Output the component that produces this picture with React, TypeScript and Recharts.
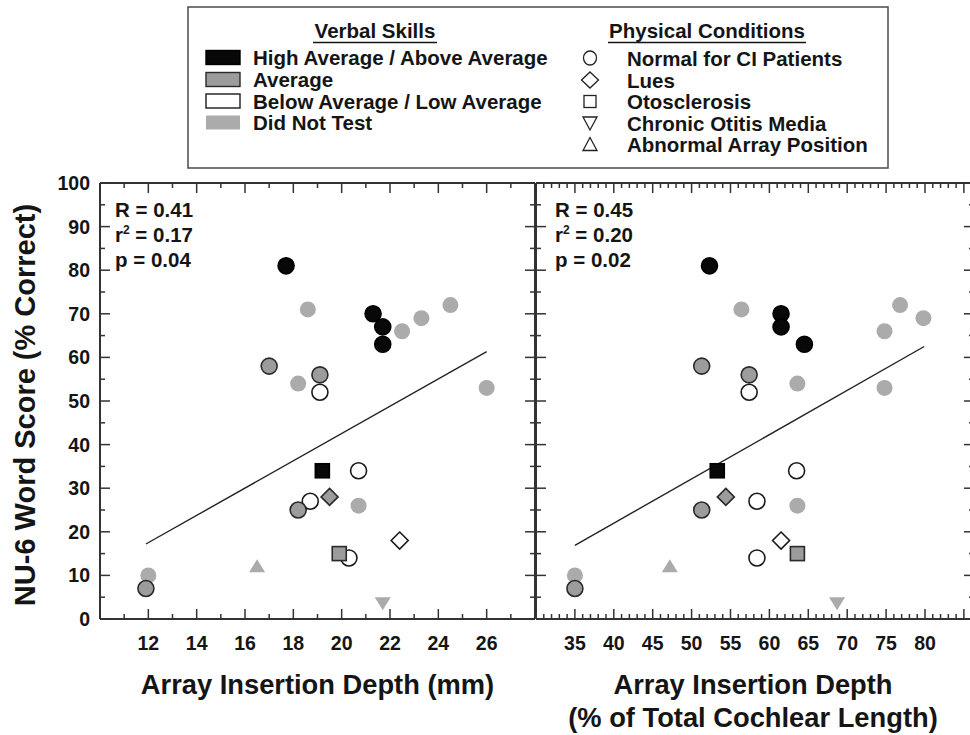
import { ComposedChart, Scatter, XAxis, YAxis } from 'recharts';

const FONT = '"Liberation Sans", Arial, Helvetica, sans-serif';
const INK = '#151515';
const FRAME = '#333';

// one entry per patient, in drawing order (did-not-test first, high average last)
const verbalSkill = [
  'dnt', 'dnt', 'dnt', 'dnt', 'dnt', 'dnt', 'dnt', 'dnt', 'dnt', 'dnt',
  'below', 'below', 'below', 'below', 'below',
  'avg', 'avg', 'avg', 'avg', 'avg', 'avg',
  'high', 'high', 'high', 'high', 'high',
];
const condition = [
  'normal', 'normal', 'normal', 'normal', 'normal', 'normal', 'normal', 'normal', 'abnormal', 'com',
  'normal', 'normal', 'normal', 'normal', 'lues',
  'normal', 'normal', 'normal', 'normal', 'lues', 'oto',
  'normal', 'normal', 'normal', 'normal', 'oto',
];
const wordScore = [71, 66, 69, 72, 53, 54, 26, 10, 12, 3.7, 52, 34, 27, 14, 18, 58, 56, 25, 7, 28, 15, 81, 70, 67, 63, 34];
const depthMm = [
  18.6, 22.5, 23.3, 24.5, 26.0, 18.2, 20.7, 12.0, 16.5, 21.7,
  19.1, 20.7, 18.7, 20.3, 22.4,
  17.0, 19.1, 18.2, 11.9, 19.5, 19.9,
  17.7, 21.3, 21.7, 21.7, 19.2,
];
const depthPct = [
  56.4, 74.8, 79.8, 76.8, 74.8, 63.6, 63.6, 35.0, 47.2, 68.7,
  57.4, 63.5, 58.4, 58.4, 61.5,
  51.3, 57.4, 51.3, 35.0, 54.4, 63.6,
  52.3, 61.5, 61.5, 64.5, 53.3,
];

// regression line end points
const mmFit = [{ x: 11.9, y: 17.2 }, { x: 26.0, y: 61.3 }];
const pctFit = [{ x: 35.0, y: 16.9 }, { x: 79.9, y: 62.5 }];
const mmStats = ['0.41', '0.17', '0.04'];
const pctStats = ['0.45', '0.20', '0.02'];

const mmTickLabels = [12, 14, 16, 18, 20, 22, 24, 26];
const pctTickLabels = [35, 40, 45, 50, 55, 60, 65, 70, 75, 80];
const scoreTickLabels = [0, 10, 20, 30, 40, 50, 60, 70, 80, 90, 100];

const range = (a: number, b: number, s: number) => {
  const out: number[] = [];
  for (let v = a; v <= b + 1e-9; v += s) out.push(v);
  return out;
};
const mmMinor = range(10, 28, 1);
const pctMinor = range(30, 86, 1);
const scoreMinor = range(0, 100, 5);

const skillStyle: Record<string, { fill: string; stroke: string }> = {
  high: { fill: '#080808', stroke: '#000' },
  avg: { fill: '#9c9c9c', stroke: '#2a2a2a' },
  below: { fill: '#fff', stroke: '#1a1a1a' },
  dnt: { fill: '#ababab', stroke: 'none' },
};

function PatientMark(props: any) {
  const { cx, cy, payload } = props;
  const st = skillStyle[payload.skill];
  const common = { fill: st.fill, stroke: st.stroke, strokeWidth: 1.6 };
  switch (payload.cond) {
    case 'oto':
      return <rect x={cx - 7} y={cy - 7} width={14} height={14} {...common} />;
    case 'lues':
      return <polygon points={`${cx},${cy - 8.5} ${cx + 8.5},${cy} ${cx},${cy + 8.5} ${cx - 8.5},${cy}`} {...common} />;
    case 'abnormal':
      return <polygon points={`${cx},${cy - 7.5} ${cx + 8},${cy + 5.5} ${cx - 8},${cy + 5.5}`} {...common} />;
    case 'com':
      return <polygon points={`${cx},${cy + 7.5} ${cx + 8},${cy - 5.5} ${cx - 8},${cy - 5.5}`} {...common} />;
    default:
      return <circle cx={cx} cy={cy} r={8} {...common} />;
  }
}

// inward tick marks (long on major steps) with optional label outside the frame
function makeTick(side: string, step: number, labels: number[]) {
  return (props: any) => {
    const x = Number(props.x);
    const y = Number(props.y);
    const v = Number(props.payload.value);
    const major = Math.abs(v / step - Math.round(v / step)) < 1e-6;
    const len = major ? 10 : 5;
    const label = labels.includes(v);
    let d = '';
    if (side === 'bottom') d = `M${x},${y}V${y - len}`;
    else if (side === 'top') d = `M${x},${y}V${y + len}`;
    else if (side === 'left') d = `M${x},${y}H${x + len}`;
    else d = `M${x},${y}H${x - len}`;
    return (
      <g>
        <path d={d} stroke={FRAME} strokeWidth={1.5} fill="none" />
        {label && side === 'bottom' && (
          <text x={x} y={y + 30.5} textAnchor="middle" fontSize={19.5} fontWeight="bold" fill={INK} fontFamily={FONT}>
            {v}
          </text>
        )}
        {label && side === 'left' && (
          <text x={x - 10} y={y + 7} textAnchor="end" fontSize={19.5} fontWeight="bold" fill={INK} fontFamily={FONT}>
            {v}
          </text>
        )}
      </g>
    );
  };
}

interface PanelProps {
  left: number;
  width: number;
  margin: { top: number; right: number; bottom: number; left: number };
  depth: number[];
  domain: [number, number];
  minor: number[];
  step: number;
  labels: number[];
  fit: { x: number; y: number }[];
  yWidth: number;
  yLabels: number[];
}

function Panel({ left, width, margin, depth, domain, minor, step, labels, fit, yWidth, yLabels }: PanelProps) {
  const points = wordScore.map((s, i) => ({ x: depth[i], y: s, skill: verbalSkill[i], cond: condition[i] }));
  const axisLine = { stroke: FRAME, strokeWidth: 2 };
  return (
    <div style={{ position: 'absolute', left, top: 0, width }}>
      <ComposedChart width={width} height={735} margin={margin}>
        <XAxis xAxisId="b" type="number" dataKey="x" domain={domain} ticks={minor} interval={0} height={1}
          tickSize={0} tickMargin={0} tickLine={false} axisLine={axisLine} tick={makeTick('bottom', step, labels)} allowDataOverflow />
        <XAxis xAxisId="t" orientation="top" type="number" dataKey="x" domain={domain} ticks={minor} interval={0} height={1}
          tickSize={0} tickMargin={0} tickLine={false} axisLine={axisLine} tick={makeTick('top', step, [])} allowDataOverflow />
        <YAxis yAxisId="l" type="number" dataKey="y" domain={[0, 100]} ticks={scoreMinor} interval={0} width={yWidth}
          tickSize={0} tickMargin={0} tickLine={false} axisLine={axisLine} tick={makeTick('left', 10, yLabels)} allowDataOverflow />
        <YAxis yAxisId="r" orientation="right" type="number" dataKey="y" domain={[0, 100]} ticks={scoreMinor} interval={0} width={1}
          tickSize={0} tickMargin={0} tickLine={false} axisLine={axisLine} tick={makeTick('right', 10, [])} allowDataOverflow />
        <Scatter xAxisId="b" yAxisId="l" data={fit} line={{ stroke: '#222', strokeWidth: 1.4 }} shape={() => <g />} isAnimationActive={false} />
        <Scatter xAxisId="b" yAxisId="l" data={points} shape={PatientMark} isAnimationActive={false} />
      </ComposedChart>
    </div>
  );
}

function Stats({ x, vals }: { x: number; vals: string[] }) {
  return (
    <g fontSize={20.5} fontWeight="bold" fill={INK}>
      <text x={x} y={217}>R = {vals[0]}</text>
      <text x={x} y={242}>
        r<tspan dy={-8} fontSize={12}>2</tspan>
        <tspan dy={8}> = {vals[1]}</tspan>
      </text>
      <text x={x} y={267}>p = {vals[2]}</text>
    </g>
  );
}

const skillLegend = [
  { key: 'high', text: 'High Average / Above Average' },
  { key: 'avg', text: 'Average' },
  { key: 'below', text: 'Below Average / Low Average' },
  { key: 'dnt', text: 'Did Not Test' },
];
const conditionLegend = [
  { key: 'normal', text: 'Normal for CI Patients' },
  { key: 'lues', text: 'Lues' },
  { key: 'oto', text: 'Otosclerosis' },
  { key: 'com', text: 'Chronic Otitis Media' },
  { key: 'abnormal', text: 'Abnormal Array Position' },
];
const legendRowY = [57.5, 79.5, 101, 122.5, 144];

function LegendSymbol({ kind, cx, cy }: { kind: string; cx: number; cy: number }) {
  const st = { fill: '#fff', stroke: '#222', strokeWidth: 1.3 };
  if (kind === 'lues') return <polygon points={`${cx},${cy - 8} ${cx + 8.5},${cy} ${cx},${cy + 8} ${cx - 8.5},${cy}`} {...st} />;
  if (kind === 'oto') return <rect x={cx - 6} y={cy - 6} width={12} height={12} {...st} />;
  if (kind === 'com') return <polygon points={`${cx - 7},${cy - 6} ${cx + 7},${cy - 6} ${cx},${cy + 7}`} {...st} />;
  if (kind === 'abnormal') return <polygon points={`${cx - 7},${cy + 6} ${cx + 7},${cy + 6} ${cx},${cy - 7}`} {...st} />;
  return <ellipse cx={cx} cy={cy} rx={6.5} ry={7} {...st} />;
}

function Overlay() {
  return (
    <svg width={970} height={735} style={{ position: 'absolute', left: 0, top: 0, pointerEvents: 'none' }} fontFamily={FONT}>
      <rect x={188} y={7} width={700} height={161} fill="#fff" stroke="#555" strokeWidth={1.6} />
      <g fontSize={20.5} fontWeight="bold" fill={INK}>
        <text x={375} y={38} textAnchor="middle">Verbal Skills</text>
        <line x1={313} x2={437} y1={42.5} y2={42.5} stroke={INK} strokeWidth={1.5} />
        <text x={707} y={38} textAnchor="middle">Physical Conditions</text>
        <line x1={608} x2={806} y1={42.5} y2={42.5} stroke={INK} strokeWidth={1.5} />
        {skillLegend.map((s, i) => {
          const st = skillStyle[s.key];
          return (
            <g key={s.key}>
              <rect x={206} y={legendRowY[i] - 7} width={34} height={14} fill={st.fill}
                stroke={st.stroke === 'none' ? 'none' : st.stroke} strokeWidth={1.4} />
              <text x={253} y={legendRowY[i] + 7.5}>{s.text}</text>
            </g>
          );
        })}
        {conditionLegend.map((c, i) => (
          <g key={c.key}>
            <LegendSymbol kind={c.key} cx={590} cy={legendRowY[i] + 0.5} />
            <text x={627} y={legendRowY[i] + 8}>{c.text}</text>
          </g>
        ))}
      </g>
      <Stats x={115} vals={mmStats} />
      <Stats x={555} vals={pctStats} />
      <g fontSize={27.3} fontWeight="bold" fill={INK} textAnchor="middle">
        <text x={317.5} y={694}>Array Insertion Depth (mm)</text>
        <text x={753} y={694}>Array Insertion Depth</text>
        <text x={753} y={727}>(% of Total Cochlear Length)</text>
        <text x={0} y={0} transform="translate(35 405) rotate(-90)" fontSize={29}>NU-6 Word Score (% Correct)</text>
      </g>
    </svg>
  );
}

export default function App() {
  return (
    <div style={{ position: 'absolute', left: 0, top: 0, width: 970, height: 735, overflow: 'hidden', background: '#fff', fontFamily: FONT }}>
      <Panel left={0} width={560} margin={{ top: 182, right: 24, bottom: 115, left: 0 }} depth={depthMm}
        domain={[10, 28]} minor={mmMinor} step={2} labels={mmTickLabels} fit={mmFit} yWidth={100} yLabels={scoreTickLabels} />
      <Panel left={500} width={500} margin={{ top: 182, right: 25, bottom: 115, left: 35 }} depth={depthPct}
        domain={[30, 86.3]} minor={pctMinor} step={5} labels={pctTickLabels} fit={pctFit} yWidth={1} yLabels={[]} />
      <Overlay />
    </div>
  );
}
